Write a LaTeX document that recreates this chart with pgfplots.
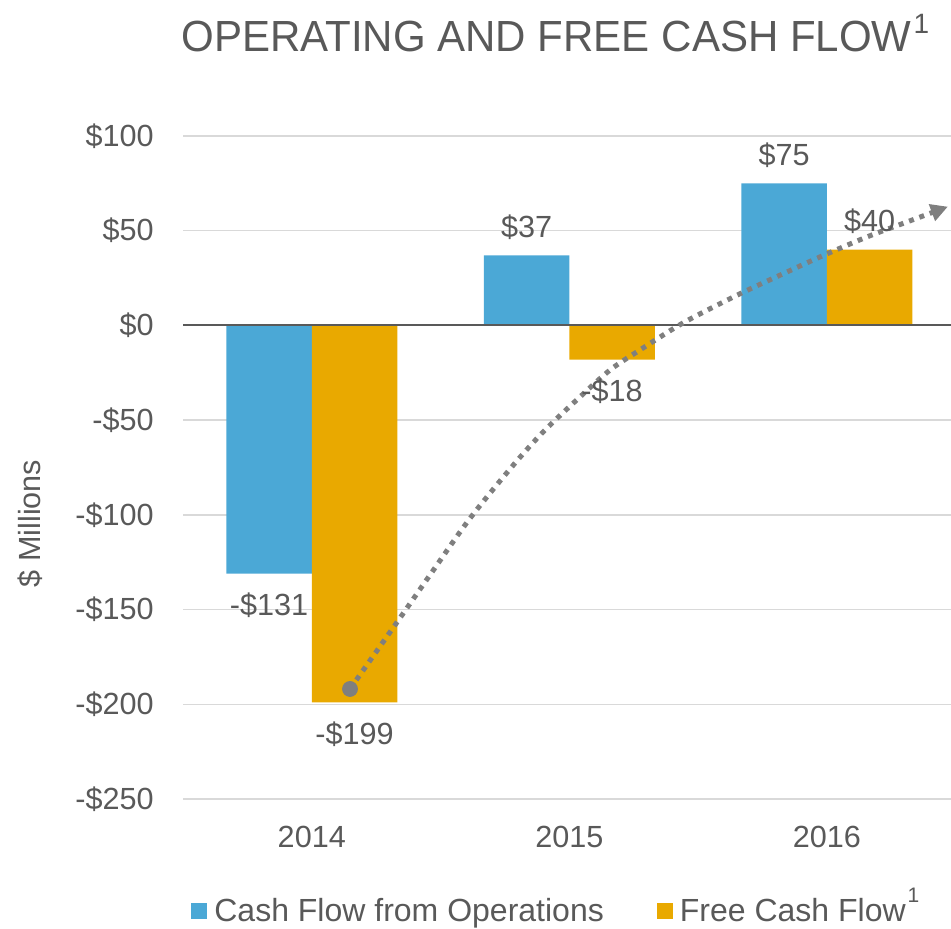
\documentclass[border=0pt]{standalone}
\usepackage{fontspec}
\setmainfont{Liberation Sans}
\usepackage{graphicx}
\usepackage{pgfplots}
\pgfplotsset{compat=1.18}
\usetikzlibrary{arrows.meta}
\definecolor{textgray}{HTML}{595959}
\definecolor{gridgray}{HTML}{D9D9D9}
\definecolor{zerogray}{HTML}{595959}
\definecolor{cfoblue}{HTML}{4BA8D6}
\definecolor{fcforange}{HTML}{E9A900}
\definecolor{trendgray}{HTML}{7F7F7F}
\newcommand{\lbl}{\fontsize{15.3}{18}\selectfont}
\newcommand{\lgd}{\fontsize{16}{19}\selectfont}
\pgfplotsset{
  barlabels/.style={
    nodes near coords, point meta=explicit symbolic,
    visualization depends on={rawy \as \rawy},
    every node near coord/.append style={font=\lbl, text=textgray, inner xsep=0pt},
    every node near coord/.append code={%
      \ifdim\rawy pt<0pt \pgfkeysalso{anchor=north, inner ysep=9.5pt}%
      \else \pgfkeysalso{anchor=south, inner ysep=7.6pt}\fi},
  },
}
\begin{document}
\begin{tikzpicture}[x=1pt,y=1pt]
\path[use as bounding box] (-91.5,-64.5) rectangle (384,399.5);
\begin{axis}[
  at={(0,0)}, anchor=south west,
  scale only axis, width=384pt, height=331.5pt,
  xmin=-0.5, xmax=2.482, ymin=-250, ymax=100,
  ybar=0pt, bar width=42.75pt,
  xtick={0,1,2}, xticklabels={2014,2015,2016},
  ytick={-250,-200,...,100},
  yticklabels={-\$250,-\$200,-\$150,-\$100,-\$50,\$0,\$50,\$100},
  ymajorgrids, grid style={gridgray, line width=0.75pt},
  axis line style={draw=none}, major tick length=0pt,
  tick label style={font=\lbl, text=textgray},
  yticklabel style={inner sep=0pt, xshift=-14.5pt},
  xticklabel style={inner sep=0pt, yshift=-13.2pt},
  clip=false,
  legend image code/.code={\fill[#1] (0pt,-4pt) rectangle (8pt,4pt);},
  legend style={at={(0.0104,-0.169)}, anchor=west, draw=none, fill=none,
    inner sep=0pt, font=\lgd, text=textgray,
    nodes={inner xsep=3.5pt},
    /tikz/every even column/.append style={column sep=23pt}},
  legend columns=2,
]
\addplot[fill=cfoblue, draw=none, barlabels]
  coordinates {(0,-131) [-\$131] (1,37) [\$37] (2,75) [\$75]};
\addplot[fill=fcforange, draw=none, barlabels]
  coordinates {(0,-199) [-\$199] (1,-18) [-\$18] (2,40) [\$40]};
\legend{Cash Flow from Operations, Free Cash Flow\hspace{1pt}\raisebox{9.3pt}[0pt][0pt]{\fontsize{10.5}{10.5}\selectfont 1}}
\addplot[forget plot, sharp plot, draw=zerogray, line width=1pt, fill=none]
  coordinates {(-0.5,0) (2.482,0)};
\addplot[forget plot, smooth, draw=trendgray, fill=none, line width=2.5pt,
  dash pattern=on 2.5pt off 3pt, -{Triangle[length=8.5pt,width=8.5pt]}]
  coordinates {(0.1485,-191.9) (0.3427,-154.4) (0.4592,-131.7) (0.6146,-101.8)
  (0.7827,-73.7) (0.8992,-56.1) (1.0289,-39.3) (1.1583,-23.5) (1.2748,-12.9)
  (1.4173,-0.6) (1.5117,6.4) (1.6670,17.0) (1.8351,27.6) (1.9905,37.2)
  (2.1590,46.9) (2.3144,54.8) (2.4697,62.7)};
\addplot[forget plot, only marks, mark=*, mark size=3.75pt, draw=trendgray, fill=trendgray]
  coordinates {(0.1485,-191.9)};
\end{axis}
\node[anchor=base west, text=textgray, font=\fontsize{21.8}{26}\selectfont, inner sep=0pt]
  at (-1,373.6) {\scalebox{0.964}[1]{OPERATING AND FREE CASH FLOW}\hspace{1pt}\raisebox{9.2pt}{\fontsize{14}{14}\selectfont 1}};
\node[rotate=90, text=textgray, font=\lbl, inner sep=0pt] at (-76.5,137.75) {\$ Millions};
\end{tikzpicture}
\end{document}
